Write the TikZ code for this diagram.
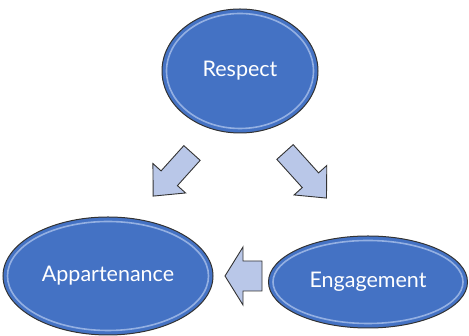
\documentclass[tikz,border=0pt]{standalone}
\usepackage{fontspec}
\setmainfont{Lato}
\usetikzlibrary{shapes.geometric,calc}
\definecolor{eblue}{HTML}{4472C4}
\definecolor{elight}{HTML}{A9C0EA}
\definecolor{afill}{HTML}{B9C7E8}
\tikzset{
  oval/.style={ellipse, inner sep=0pt, fill=eblue, draw=black!80, line width=1pt,
    text=white, font=\fontsize{21.5}{24}\selectfont,
    path picture={\draw[elight, line width=1.6pt, opacity=0.8]
      let \p1=(path picture bounding box.north east),
          \p2=(path picture bounding box.south west) in
      (path picture bounding box.center) ellipse [x radius={(\x1-\x2)/2-4.5pt}, y radius={(\y1-\y2)/2-4.5pt}];}},
  barrow/.style={fill=afill, draw=black!80, line width=0.9pt, line join=miter}
}
\begin{document}
\begin{tikzpicture}[x=1pt,y=1pt]
\useasboundingbox (0,0) rectangle (469,336);
\node[oval, minimum width=156pt, minimum height=124pt] (resp) at (240,265) {Respect};
\node[oval, minimum width=210pt, minimum height=118pt] (app) at (108,60) {Appartenance};
\node[oval, minimum width=199pt, minimum height=92pt] (eng) at (368,54) {Engagement};
% block arrows
\coordinate (a1) at (192,183);
\coordinate (a2) at (285,184);
\coordinate (a3) at (262,60);
\draw[barrow, shift={(a1)}, rotate=228] (0,-11) -- (34,-11) -- (34,-22) -- (58,0) -- (34,22) -- (34,11) -- (0,11) -- cycle;
\draw[barrow, shift={(a2)}, rotate=-48] (0,-11) -- (38,-11) -- (38,-22) -- (62,0) -- (38,22) -- (38,11) -- (0,11) -- cycle;
\draw[barrow, shift={(a3)}, rotate=180] (0,-15) -- (19,-15) -- (19,-29) -- (37,0) -- (19,29) -- (19,15) -- (0,15) -- cycle;
\end{tikzpicture}
\end{document}
